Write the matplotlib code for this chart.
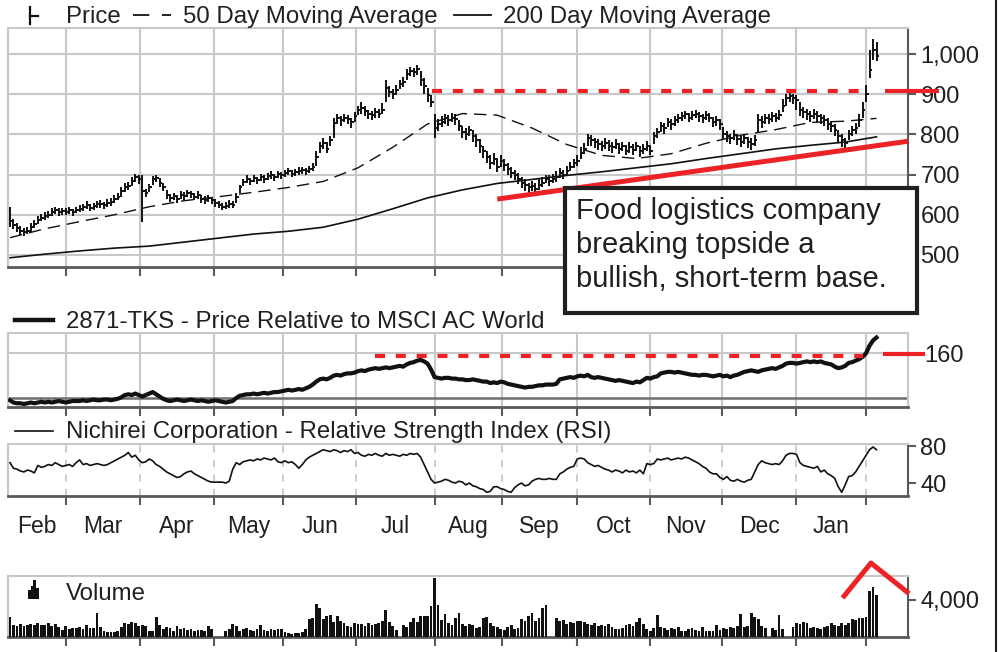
import matplotlib
matplotlib.use("Agg")
import matplotlib.pyplot as plt
from matplotlib.lines import Line2D
from matplotlib.patches import Rectangle
import numpy as np

plt.rcParams['font.family'] = ['Liberation Sans', 'DejaVu Sans']

# ---------------- data ----------------
close = [
    585, 575, 568, 560, 556, 560, 570, 578, 588, 592,
    598, 600, 608, 612, 606, 610, 608, 612, 606, 612,
    615, 620, 625, 618, 622, 626, 628, 624, 630, 632,
    640, 645, 660, 668, 672, 685, 695, 690, 660, 655,
    668, 688, 692, 680, 670, 650, 642, 646, 640, 650,
    648, 655, 652, 645, 650, 640, 638, 642, 636, 630,
    625, 620, 622, 628, 625, 645, 668, 682, 690, 684,
    692, 686, 694, 690, 696, 700, 694, 702, 698, 704,
    708, 702, 706, 710, 712, 708, 715, 718, 745, 772,
    778, 765, 785, 828, 840, 835, 842, 838, 830, 845,
    860, 866, 858, 850, 848, 855, 852, 862, 915, 905,
    900, 910, 925, 930, 950, 958, 955, 962, 935, 920,
    898, 882, 815, 825, 832, 840, 835, 842, 838, 820,
    805, 800, 810, 795, 785, 770, 758, 745, 730, 740,
    720, 735, 725, 715, 705, 700, 690, 680, 675, 668,
    672, 665, 675, 680, 690, 685, 690, 695, 705, 700,
    710, 720, 728, 735, 755, 765, 790, 785, 780, 775,
    770, 778, 772, 768, 776, 765, 770, 760, 768, 762,
    770, 758, 765, 772, 760, 795, 805, 820, 815, 830,
    825, 835, 840, 845, 850, 842, 848, 852, 845, 840,
    848, 842, 830, 835, 825, 800, 795, 790, 798, 788,
    782, 790, 780, 775, 785, 835, 830, 840, 838, 845,
    842, 848, 870, 890, 895, 890, 885, 860, 855, 850,
    845, 852, 845, 840, 835, 825, 820, 810, 795, 785,
    778, 800, 810, 815, 835, 860, 900, 960, 1010, 995]

high = [
    620, 590, 580, 572, 566, 570, 580, 588, 596, 602,
    606, 610, 618, 620, 616, 618, 616, 620, 614, 620,
    624, 628, 634, 628, 630, 634, 636, 632, 640, 642,
    650, 655, 668, 678, 682, 694, 702, 700, 700, 665,
    676, 696, 700, 692, 678, 662, 652, 654, 650, 658,
    656, 662, 660, 654, 658, 650, 646, 650, 644, 640,
    634, 630, 632, 636, 634, 655, 675, 690, 698, 692,
    700, 694, 702, 698, 704, 708, 702, 710, 706, 712,
    716, 712, 714, 718, 720, 716, 722, 728, 760, 780,
    790, 780, 795, 840, 850, 845, 852, 848, 842, 855,
    872, 880, 870, 862, 858, 866, 864, 878, 935, 920,
    912, 922, 935, 942, 962, 968, 966, 972, 958, 940,
    915, 898, 850, 838, 845, 852, 848, 854, 850, 836,
    822, 815, 822, 812, 800, 788, 772, 760, 750, 754,
    742, 750, 740, 728, 720, 712, 704, 694, 688, 680,
    684, 678, 688, 694, 700, 698, 702, 708, 716, 712,
    722, 732, 740, 748, 768, 778, 802, 798, 792, 788,
    784, 790, 786, 780, 788, 778, 782, 774, 780, 776,
    782, 772, 776, 784, 774, 805, 815, 832, 828, 842,
    838, 846, 852, 856, 858, 854, 858, 860, 856, 852,
    858, 854, 844, 846, 838, 818, 808, 802, 810, 800,
    796, 802, 794, 790, 798, 850, 845, 852, 850, 856,
    854, 860, 888, 900, 902, 900, 898, 880, 868, 864,
    858, 864, 858, 852, 848, 840, 834, 825, 812, 800,
    792, 812, 822, 828, 850, 880, 922, 1010, 1038, 1030]

low = [
    570, 565, 556, 550, 548, 552, 558, 566, 578, 584,
    588, 592, 598, 602, 598, 600, 600, 602, 598, 604,
    606, 610, 614, 610, 612, 616, 618, 614, 620, 622,
    630, 636, 645, 656, 662, 672, 682, 676, 582, 644,
    656, 675, 682, 670, 658, 640, 632, 636, 630, 640,
    638, 645, 642, 636, 640, 630, 628, 632, 626, 620,
    616, 612, 614, 618, 616, 630, 655, 672, 680, 674,
    682, 676, 684, 680, 686, 690, 684, 692, 688, 694,
    698, 694, 696, 700, 702, 700, 705, 708, 722, 755,
    765, 755, 770, 790, 826, 822, 830, 825, 815, 832,
    848, 852, 845, 838, 836, 842, 840, 850, 880, 892,
    888, 898, 912, 918, 935, 945, 942, 948, 920, 900,
    880, 868, 790, 808, 818, 826, 822, 830, 824, 808,
    792, 786, 796, 780, 768, 755, 742, 728, 715, 724,
    706, 720, 710, 700, 692, 686, 676, 666, 660, 655,
    660, 652, 662, 668, 678, 672, 678, 682, 692, 688,
    698, 708, 716, 722, 740, 752, 770, 772, 766, 762,
    758, 764, 760, 755, 764, 752, 758, 748, 755, 750,
    758, 745, 752, 760, 748, 775, 792, 806, 802, 818,
    812, 822, 828, 834, 838, 830, 836, 840, 832, 828,
    836, 830, 818, 822, 810, 788, 782, 776, 785, 774,
    768, 776, 766, 762, 772, 805, 816, 826, 825, 832,
    830, 836, 855, 872, 880, 876, 862, 846, 842, 836,
    832, 838, 832, 826, 822, 810, 806, 796, 780, 768,
    765, 785, 796, 802, 818, 842, 882, 940, 985, 982]

ma_days = [0, 10, 20, 30, 40, 50, 60, 70, 80, 90, 100, 110, 120,
           130, 140, 150, 160, 170, 180, 190, 200, 210, 220, 230, 240, 249]
ma50 = [543, 565, 583, 600, 620, 635, 645, 656, 668, 683, 717, 768, 826,
        852, 848, 816, 775, 748, 740, 752, 778, 798, 812, 830, 833, 840]
ma200 = [493, 502, 510, 517, 522, 532, 542, 552, 559, 569, 589, 615, 642,
         662, 678, 688, 698, 707, 717, 727, 740, 752, 764, 773, 781, 794]

rel = [
    97, 94, 93, 93, 92, 93, 94, 93, 94, 95,
    94, 95, 94, 95, 96, 95, 94, 95, 96, 96,
    96, 97, 96, 97, 98, 97, 97, 98, 98, 97,
    98, 99, 101, 104, 105, 104, 106, 104, 102, 104,
    106, 108, 105, 102, 99, 97, 96, 97, 98, 97,
    96, 97, 98, 97, 96, 97, 96, 95, 96, 97,
    96, 95, 94, 95, 96, 100, 103, 104, 105, 105,
    106, 105, 106, 107, 106, 107, 108, 108, 109, 110,
    111, 110, 111, 112, 111, 113, 115, 118, 122, 125,
    126, 125, 127, 130, 131, 130, 132, 133, 133, 134,
    136, 137, 136, 138, 139, 140, 139, 140, 141, 140,
    141, 142, 143, 142, 145, 147, 148, 150, 151, 149,
    146, 138, 128, 127, 126, 127, 127, 126, 126, 125,
    125, 124, 124, 125, 124, 123, 122, 122, 120, 121,
    120, 122, 121, 119, 118, 117, 116, 115, 114, 115,
    115, 116, 117, 117, 118, 118, 118, 119, 125, 126,
    127, 128, 127, 129, 130, 129, 131, 128, 127, 128,
    127, 126, 125, 124, 123, 124, 123, 122, 121, 120,
    122, 121, 124, 127, 126, 128, 129, 133, 134, 135,
    135, 134, 135, 134, 133, 132, 131, 131, 130, 131,
    131, 130, 129, 130, 131, 129, 130, 128, 130, 131,
    133, 135, 136, 137, 136, 135, 137, 138, 139, 140,
    139, 141, 143, 146, 147, 147, 146, 147, 148, 149,
    148, 149, 148, 149, 147, 146, 145, 142, 140, 141,
    143, 147, 148, 150, 152, 155, 160, 170, 177, 181]

rsi = [
    62, 56, 55, 53, 52, 54, 53, 51, 59, 57,
    58, 60, 59, 62, 60, 58, 59, 60, 58, 62,
    65, 60, 61, 59, 60, 61, 60, 59, 60, 62,
    64, 66, 68, 70, 73, 68, 70, 65, 62, 63,
    66, 64, 60, 58, 55, 52, 50, 48, 46, 47,
    50, 52, 53, 50, 48, 46, 44, 42, 41, 41,
    41, 41, 40, 42, 55, 62, 60, 63, 64, 65,
    64, 66, 65, 67, 66, 65, 67, 63, 62, 64,
    62, 63, 60, 56, 60, 65, 68, 70, 72, 74,
    76, 75, 74, 76, 75, 73, 75, 74, 76, 72,
    73, 70, 69, 71, 70, 72, 70, 69, 72, 70,
    71, 70, 69, 71, 70, 72, 71, 72, 68, 60,
    52, 44, 40, 41, 42, 44, 43, 41, 40, 42,
    41, 38, 40, 37, 36, 34, 33, 30, 31, 36,
    36, 34, 33, 31, 30, 35, 38, 40, 37, 38,
    42, 44, 45, 44, 44, 45, 44, 44, 50, 52,
    55, 57, 58, 66, 67, 66, 62, 60, 58, 59,
    57, 55, 54, 52, 54, 53, 51, 54, 52, 53,
    51, 54, 50, 61, 60, 61, 66, 65, 66, 67,
    65, 66, 67, 66, 68, 67, 65, 63, 61, 58,
    56, 52, 50, 50, 46, 44, 47, 43, 42, 44,
    42, 41, 43, 44, 52, 60, 64, 62, 61, 60,
    61, 60, 64, 70, 72, 72, 71, 62, 59, 58,
    57, 56, 58, 52, 54, 50, 48, 45, 36, 30,
    38, 47, 48, 52, 58, 64, 70, 76, 79, 76]

volume = [
    2200, 1250, 1150, 1400, 1200, 1300, 1450, 1300, 1550, 1250,
    1350, 1500, 1200, 1450, 1100, 800, 1200, 900, 1000, 950,
    1100, 900, 1300, 950, 1000, 2600, 1100, 600, 500, 550,
    500, 600, 1100, 1500, 1400, 1600, 1500, 1200, 1300, 1150,
    600, 700, 2200, 1300, 900, 1100, 1000, 700, 1200, 900,
    1000, 800, 900, 700, 800, 750, 650, 1200, 900, 0,
    0, 0, 700, 900, 1400, 1200, 700, 900, 1000, 800,
    700, 900, 1300, 800, 700, 900, 800, 850, 900, 500,
    400, 350, 450, 400, 500, 900, 1900, 2000, 3600, 3100,
    1900, 2300, 2400, 1600, 2300, 1700, 1500, 1200, 1100, 1500,
    1400, 1400, 1200, 1500, 1300, 1400, 1500, 1700, 2900, 1600,
    1200, 800, 0, 1300, 1100, 1600, 2000, 1600, 2300, 2300,
    2300, 3300, 6400, 3500, 1800, 2500, 1500, 1300, 2000, 2600,
    1400, 1200, 1400, 1300, 1000, 1100, 2100, 2200, 1500, 1200,
    1100, 900, 800, 1100, 1300, 900, 1000, 1900, 1700, 2300,
    2600, 1700, 2100, 3100, 3500, 0, 0, 2000, 1700, 1800,
    1400, 1600, 1500, 1700, 1700, 1600, 1400, 1300, 1500, 1200,
    1300, 1200, 1400, 1100, 900, 900, 1000, 1300, 1400, 1200,
    1600, 2000, 1400, 900, 700, 1000, 2400, 1100, 1000, 800,
    1000, 900, 1100, 600, 700, 900, 1000, 800, 700, 1100,
    600, 600, 700, 1300, 800, 1000, 900, 1100, 1000, 1200,
    2500, 1100, 1200, 2600, 2200, 1900, 1200, 1000, 0, 1000,
    800, 2400, 900, 0, 0, 1100, 1500, 1400, 1600, 1500,
    1000, 1100, 1000, 900, 1100, 1200, 1500, 1300, 1200, 1500,
    1300, 1500, 1900, 1800, 2000, 2100, 2200, 5000, 5400, 4500]

month_bounds = [16, 37.5, 58.5, 78.5, 99.5, 122, 141.5, 163, 184, 204.5, 226, 246]
month_names = ['Feb', 'Mar', 'Apr', 'May', 'Jun', 'Jul', 'Aug', 'Sep',
               'Oct', 'Nov', 'Dec', 'Jan']

price_ticks = [500, 600, 700, 800, 900, 1000]
price_tick_labels = ['500', '600', '700', '800', '900', '1,000']
rel_ticks = [160]
rsi_ticks = [40, 80]
vol_ticks = [4000]
vol_tick_labels = ['4,000']

resistance_price = 907
resistance_rel = 156
trend_start = (140, 639)
trend_end = (258, 783)
vol_mark = [(239.7, 4430), (247.4, 7990), (257.8, 4860)]

note = "Food logistics company\nbreaking topside a\nbullish, short-term base."

# ---------------- layout ----------------
W, H = 1004, 652
GRID = '#c8c8c8'
DARK = '#5a5a5a'
TXT = '#231f20'
RED = '#ec2227'
BAR = '#111111'
XMIN, XMAX = -0.575, 258.05

fig = plt.figure(figsize=(W / 100, H / 100), dpi=100)
fig.patch.set_facecolor('white')


def rect(l, t, r, b):
    return [l / W, 1 - b / H, (r - l) / W, (b - t) / H]


def fx(x):
    return x / W


def fy(y):
    return 1 - y / H


ax_p = fig.add_axes(rect(8, 28, 908, 267))
ax_r = fig.add_axes(rect(8, 333, 908, 407))
ax_s = fig.add_axes(rect(8, 444, 908, 496))
ax_v = fig.add_axes(rect(8, 576, 908, 637))


def style(ax, right_dark=True):
    ax.set_xlim(XMIN, XMAX)
    for s in ('top', 'left'):
        ax.spines[s].set_color(GRID)
        ax.spines[s].set_linewidth(1.5)
    ax.spines['right'].set_color(DARK if right_dark else GRID)
    ax.spines['right'].set_linewidth(1.5)
    ax.spines['bottom'].set_color(DARK)
    ax.spines['bottom'].set_linewidth(2.0)
    ax.yaxis.tick_right()
    ax.set_xticks(month_bounds)
    ax.set_xticklabels([])
    ax.tick_params(axis='x', which='major', direction='out', length=6.5,
                   width=1.5, color=DARK)
    ax.tick_params(axis='y', direction='out', length=6, width=1.5,
                   color=DARK, labelsize=17, labelcolor=TXT, pad=3,
                   left=False, right=True)
    ax.set_axisbelow(True)


days = np.arange(len(close))

# ---- price panel ----
style(ax_p)
ax_p.set_ylim(470, 1065)
ax_p.set_yticks(price_ticks)
ax_p.set_yticklabels(price_tick_labels)
ax_p.grid(True, color=GRID, lw=1.5)
ax_p.vlines(days, low, high, color=BAR, lw=1.4, zorder=3)
ax_p.hlines(close, days, days + 0.75, color=BAR, lw=1.4, zorder=3)
ax_p.plot(ma_days, ma50, color=BAR, lw=1.0, ls=(0, (9, 5)), zorder=2)
ax_p.plot(ma_days, ma200, color=BAR, lw=1.2, zorder=2)
ax_p.plot([121.3, 246], [resistance_price] * 2, color=RED, lw=3,
          dashes=(2.4, 2.6), zorder=4)
ax_p.plot([251.4, 267], [resistance_price] * 2, color=RED, lw=3,
          clip_on=False, zorder=4, solid_capstyle='butt')
ax_p.plot([trend_start[0], trend_end[0]], [trend_start[1], trend_end[1]],
          color=RED, lw=3.6, clip_on=False, zorder=4, solid_capstyle='butt')

# ---- relative panel ----
style(ax_r, right_dark=False)
ax_r.set_ylim(88, 187)
ax_r.set_yticks(rel_ticks)
ax_r.set_yticklabels([str(v) for v in rel_ticks])
ax_r.tick_params(axis='y', length=0, pad=12)
ax_r.grid(True, color=GRID, lw=1.5)
ax_r.axhline(100, color='#6e6e6e', lw=1.8, zorder=1)
ax_r.plot(days, rel, color=BAR, lw=3.0, zorder=3, solid_joinstyle='round')
ax_r.plot([104.9, 245], [resistance_rel] * 2, color=RED, lw=3,
          dashes=(2.4, 2.6), zorder=4)
ax_r.plot([250.9, 263], [resistance_rel + 2.5] * 2, color=RED, lw=3,
          clip_on=False, zorder=4, solid_capstyle='butt')

# ---- RSI panel ----
style(ax_s)
ax_s.set_ylim(26, 82.2)
ax_s.set_yticks(rsi_ticks)
ax_s.set_yticklabels([str(v) for v in rsi_ticks])
ax_s.grid(True, axis='x', which='major', color=GRID, lw=1.3, ls=(0, (4, 4)))
ax_s.plot(days, rsi, color=BAR, lw=1.2, zorder=3)
centers = [(a + b) / 2 for a, b in zip([XMIN] + month_bounds[:-1], month_bounds)]
ax_s.set_xticks(centers, minor=True)
ax_s.set_xticklabels(month_names, minor=True)
ax_s.tick_params(axis='x', which='minor', length=0, labelsize=16.5,
                 labelcolor=TXT, pad=14)

# ---- volume panel ----
style(ax_v)
ax_v.set_ylim(0, 6590)
ax_v.set_yticks(vol_ticks)
ax_v.set_yticklabels(vol_tick_labels)
ax_v.bar(days, volume, width=0.8, color=BAR, lw=0, zorder=3)
ax_v.plot([p[0] for p in vol_mark], [p[1] for p in vol_mark], color=RED,
          lw=3.6, clip_on=False, zorder=5)

# ---------------- legends ----------------
fs = 17.3
# price
fig.add_artist(Line2D([fx(30), fx(30)], [fy(7), fy(24)], color=BAR, lw=1.6))
fig.add_artist(Line2D([fx(30), fx(38)], [fy(16), fy(16)], color=BAR, lw=1.6))
fig.text(fx(66), fy(23), 'Price', fontsize=fs, color=TXT, va='baseline')
fig.add_artist(Line2D([fx(133), fx(171)], [fy(15), fy(15)], color=BAR,
                      lw=1.3, dashes=(9, 7)))
fig.text(fx(183), fy(23), '50 Day Moving Average', fontsize=fs, color=TXT,
         va='baseline')
fig.add_artist(Line2D([fx(454), fx(491)], [fy(15), fy(15)], color=BAR, lw=1.3))
fig.text(fx(503), fy(23), '200 Day Moving Average', fontsize=fs, color=TXT,
         va='baseline')
# relative
fig.add_artist(Line2D([fx(15), fx(53)], [fy(320), fy(320)], color=BAR, lw=3.2))
fig.text(fx(66), fy(328), '2871-TKS - Price Relative to MSCI AC World',
         fontsize=fs, color=TXT, va='baseline')
# RSI
fig.add_artist(Line2D([fx(15), fx(53)], [fy(431), fy(431)], color=BAR, lw=1.2))
fig.text(fx(66), fy(438), 'Nichirei Corporation - Relative Strength Index (RSI)',
         fontsize=fs, color=TXT, va='baseline')
# volume
for bx, bt in [(28.5, 590), (31.0, 586), (33.5, 580), (36.0, 588)]:
    fig.add_artist(Rectangle((fx(bx), fy(599)), 2.8 / W, (599 - bt) / H,
                             transform=fig.transFigure, color=BAR, lw=0))
fig.text(fx(66), fy(600), 'Volume', fontsize=fs, color=TXT, va='baseline')

# ---------------- annotation box ----------------
fig.add_artist(Rectangle((fx(565), fy(313)), (917 - 565) / W, (313 - 188) / H,
                         transform=fig.transFigure, facecolor='white',
                         edgecolor=TXT, lw=3, zorder=10))
fig.text(fx(576), fy(197), note, fontsize=21, color=TXT, va='top', ha='left',
         linespacing=1.27, zorder=11)

# right border
fig.add_artist(Line2D([fx(996), fx(996)], [0, 1], color=TXT, lw=1.5))

fig.savefig('out.png', dpi=100, facecolor='white')
